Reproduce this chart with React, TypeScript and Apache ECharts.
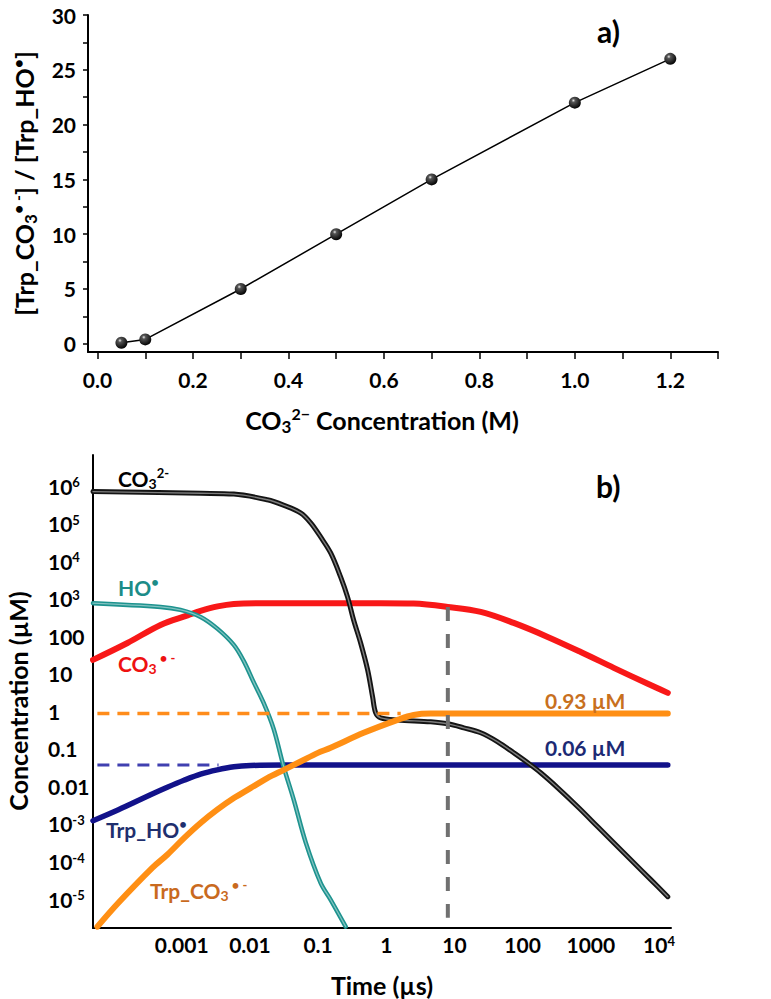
import React, { useEffect, useRef } from 'react';
import * as echarts from 'echarts';

const FONT = 'Lato, "Open Sans", "DejaVu Sans", sans-serif';

// ---------------- Panel a ----------------
const carbonateMolar = [0.05, 0.1, 0.3, 0.5, 0.7, 1.0, 1.2];
const radicalRatio = [0.1, 0.4, 5, 10, 15, 22, 26];
const aXTickValues = [0, 0.1, 0.2, 0.3, 0.4, 0.5, 0.6, 0.7, 0.8, 0.9, 1.0, 1.1, 1.2, 1.3];
const aXLabelValues = [0, 0.2, 0.4, 0.6, 0.8, 1.0, 1.2];
const aYTickValues = [0, 2.5, 5, 7.5, 10, 12.5, 15, 17.5, 20, 22.5, 25, 27.5, 30];
const aYLabelValues = [0, 5, 10, 15, 20, 25, 30];

// ---------------- Panel b : [time (µs), concentration (µM)] ----------------
const carbonateIon = [
  [5e-5, 7.1e5], [1.9e-3, 6.4e5], [5.8e-3, 6.1e5], [0.018, 4.3e5], [0.031, 3.1e5],
  [0.056, 1.9e5], [0.078, 1.04e5], [0.109, 4.4e4], [0.153, 1.65e4], [0.214, 3.8e3],
  [0.271, 1.1e3], [0.332, 270], [0.421, 66], [0.533, 12.7], [0.631, 2.4],
  [0.7, 0.91], [0.83, 0.67], [1.47, 0.59], [4.48, 0.526], [7.96, 0.465],
  [13.7, 0.364], [24.3, 0.268], [43.1, 0.154], [74, 0.0787], [119, 0.0426],
  [184, 0.0231], [327, 9.2e-3], [643, 2.88e-3], [1265, 8.45e-4], [2170, 3.17e-4],
  [4270, 9.3e-5], [7580, 3.3e-5], [13460, 1.16e-5],
];
const carbonateRadical = [
  [5e-5, 23.5], [1.6e-4, 66], [4.9e-4, 200], [1.22e-3, 359], [1.89e-3, 472],
  [3.36e-3, 622], [5.8e-3, 726], [0.0144, 760], [0.83, 760], [2.52, 740],
  [7.96, 604], [24.3, 444], [74, 226], [233, 96], [712, 38],
  [2170, 14.4], [6850, 5.4], [13460, 3.1],
];
const hydroxylRadical = [
  [5e-5, 760], [4.9e-4, 604], [9.6e-4, 502], [1.89e-3, 327], [3.36e-3, 157],
  [5.8e-3, 58.8], [8.1e-3, 22.1], [0.0113, 6.1], [0.0159, 1.68], [0.0223, 0.342],
  [0.031, 0.0355], [0.044, 4.4e-3], [0.066, 3.2e-4], [0.109, 2.7e-5], [0.153, 9.6e-6],
  [0.254, 1.85e-6],
];
const trpHydroxyl = [
  [5e-5, 1.22e-3], [1.18e-4, 2.39e-3], [3.49e-4, 6.0e-3], [6.14e-4, 9.5e-3],
  [1.08e-3, 0.0146], [1.89e-3, 0.0213], [3.32e-3, 0.0277], [5.82e-3, 0.0334],
  [0.0102, 0.0361], [0.031, 0.037], [13460, 0.037],
];
const trpCarbonate = [
  [5.8e-5, 1.85e-6], [1.18e-4, 8.0e-6], [3.73e-4, 6.9e-5], [6.14e-4, 1.52e-4],
  [1.08e-3, 4.2e-4], [1.89e-3, 1.06e-3], [3.32e-3, 2.4e-3], [5.82e-3, 4.9e-3],
  [0.0102, 9.0e-3], [0.018, 0.0167], [0.0315, 0.0277], [0.0555, 0.0461],
  [0.0975, 0.0772], [0.153, 0.107], [0.466, 0.268], [1.47, 0.594],
  [2.52, 0.8], [4.48, 0.87], [13460, 0.87],
];
const trpCarbonateLevel = [[5.8e-5, 0.87], [1.63, 0.87]];
const trpHydroxylLevel = [[5.8e-5, 0.037], [3.47e-3, 0.037]];
const markerTime = [[8, 604], [8, 3.2e-6]];

const bTimeTicks = [0.001, 0.01, 0.1, 1, 10, 100, 1000, 10000];
const bTimeLabels = ['0.001', '0.01', '0.1', '1', '10', '100', '1000', '10{sup|4}'];
const bConcTicks = [1e6, 1e5, 1e4, 1e3, 100, 10, 1, 0.1, 0.01, 1e-3, 1e-4, 1e-5];
const bConcLabels = ['10{sup|6}', '10{sup|5}', '10{sup|4}', '10{sup|3}', '100', '10', '1', '0.1', '0.01', '10{sup|-3}', '10{sup|-4}', '10{sup|-5}'];

const lookup = (ticks: number[], labels: string[]) => (v: number) => {
  const i = ticks.findIndex((t) => Math.abs(Math.log10(t) - Math.log10(v)) < 1e-6);
  return i >= 0 ? labels[i] : '';
};

const ecRich = (color: string, subSize: number, supSize: number, subH: number, supH: number) => ({
  sub: { color, fontSize: subSize, fontWeight: 'bold', fontFamily: FONT, verticalAlign: 'bottom', lineHeight: subH },
  sup: { color, fontSize: supSize, fontWeight: 'bold', fontFamily: FONT, verticalAlign: 'top', lineHeight: supH },
});

const annot = (text: string, x: number, y: number, color: string, size = 21) => ({
  type: 'text',
  x,
  y,
  z: 100,
  style: {
    text,
    fill: color,
    fontSize: size,
    fontWeight: 'bold',
    fontFamily: FONT,
    align: 'left',
    verticalAlign: 'middle',
    lineHeight: 24,
    rich: {
      sub: { fill: color, fontSize: 14, fontWeight: 'bold', fontFamily: FONT, verticalAlign: 'bottom', lineHeight: 12 },
      sup: { fill: color, fontSize: 13, fontWeight: 'bold', fontFamily: FONT, verticalAlign: 'top', lineHeight: 10 },
    },
  },
});

export default function App() {
  const ref = useRef<HTMLDivElement>(null);
  useEffect(() => {
    const chart = echarts.init(ref.current!, null, { renderer: 'svg' });
    const sphere = new echarts.graphic.RadialGradient(0.38, 0.32, 0.7, [
      { offset: 0, color: '#e8e8e8' },
      { offset: 0.22, color: '#555555' },
      { offset: 1, color: '#000000' },
    ]);
    const tickLabel = { color: '#000', fontSize: 21, fontWeight: 'bold', fontFamily: FONT };
    const titleStyle = { color: '#000', fontSize: 25, fontWeight: 'bold', fontFamily: FONT, lineHeight: 30 };
    const axisLine = { show: true, onZero: false, lineStyle: { color: '#000', width: 2 } };
    const bLine = (data: number[][], color: string, width: number, z = 2, extra: any = {}) => ({
      type: 'line',
      xAxisIndex: 1,
      yAxisIndex: 1,
      data,
      showSymbol: false,
      symbol: 'none',
      smooth: 0.35,
      z,
      lineStyle: { color, width, cap: 'round', join: 'round' },
      silent: true,
      ...extra,
    });
    const option: any = {
      animation: false,
      backgroundColor: '#ffffff',
      grid: [
        { left: 88, right: 53, top: 15, bottom: 647, containLabel: false, outerBoundsMode: 'none' },
        { left: 93, right: 100, top: 455, bottom: 71, containLabel: false, outerBoundsMode: 'none' },
      ],
      xAxis: [
        {
          type: 'value',
          gridIndex: 0,
          min: -0.02,
          max: 1.3,
          axisLine,
          axisTick: { show: true, length: 7, customValues: aXTickValues, lineStyle: { color: '#000', width: 1.5 } },
          axisLabel: { ...tickLabel, customValues: aXLabelValues, margin: 17, formatter: (v: number) => v.toFixed(1) },
          splitLine: { show: false },
          name: 'CO{sub|3}{sup|2−} Concentration (M)',
          nameLocation: 'middle',
          nameGap: 53,
          nameMoveOverlap: false,
          nameTextStyle: { ...titleStyle, padding: [0, 42, 0, 0], rich: ecRich('#000', 17, 16, 14, 14) },
        },
        {
          type: 'log',
          logBase: 10,
          gridIndex: 1,
          min: 5e-5,
          max: 1.5e4,
          axisLine,
          axisTick: { show: false },
          axisLabel: {
            ...tickLabel,
            customValues: bTimeTicks,
            margin: 6,
            formatter: lookup(bTimeTicks, bTimeLabels),
            rich: ecRich('#000', 13, 13, 12, 14),
          },
          splitLine: { show: false },
          minorTick: { show: false },
          name: 'Time (µs)',
          nameLocation: 'middle',
          nameGap: 42,
          nameMoveOverlap: false,
          nameTextStyle: { ...titleStyle },
        },
      ],
      yAxis: [
        {
          type: 'value',
          gridIndex: 0,
          min: -0.75,
          max: 30,
          axisLine,
          axisTick: { show: true, length: 5, customValues: aYTickValues, lineStyle: { color: '#000', width: 1.5 } },
          axisLabel: { ...tickLabel, customValues: aYLabelValues, margin: 12 },
          splitLine: { show: false },
          name: '[Trp_CO{sub|3}{sup|• -}] / [Trp_HO{sup|•}]',
          nameLocation: 'middle',
          nameRotate: 90,
          nameGap: 49,
          nameMoveOverlap: false,
          nameTextStyle: { ...titleStyle, rich: ecRich('#000', 17, 16, 14, 14) },
        },
        {
          type: 'log',
          logBase: 10,
          gridIndex: 1,
          min: 1.7e-6,
          max: 6.7e6,
          axisLine,
          axisTick: { show: false },
          axisLabel: {
            ...tickLabel,
            customValues: bConcTicks,
            align: 'left',
            margin: 45,
            formatter: lookup(bConcTicks, bConcLabels),
            rich: ecRich('#000', 13, 13, 12, 14),
          },
          splitLine: { show: false },
          minorTick: { show: false },
          name: 'Concentration (µM)',
          nameLocation: 'middle',
          nameRotate: 90,
          nameGap: 60,
          nameMoveOverlap: false,
          nameTextStyle: { ...titleStyle, padding: [0, 19, 0, 0] },
        },
      ],
      series: [
        {
          type: 'line',
          xAxisIndex: 0,
          yAxisIndex: 0,
          data: carbonateMolar.map((x, i) => [x, radicalRatio[i]]),
          symbol: 'circle',
          symbolSize: 12,
          showSymbol: true,
          lineStyle: { color: '#000', width: 1.5 },
          itemStyle: { color: sphere, borderWidth: 0 },
          z: 3,
        },
        bLine(carbonateRadical, '#f81818', 6, 2),
        bLine(trpHydroxyl, '#12128a', 5.5, 3),
        bLine(carbonateIon, '#141414', 5, 4),
        bLine(carbonateIon, 'rgba(255,255,255,0.45)', 1.4, 5),
        bLine(hydroxylRadical, '#1e938f', 4.5, 6),
        bLine(hydroxylRadical, 'rgba(255,255,255,0.45)', 1.3, 7),
        bLine(trpCarbonate, '#ff8f14', 6, 8),
        bLine(trpCarbonateLevel, '#ff8c1a', 3.5, 9, { smooth: false, lineStyle: { color: '#ff8c1a', width: 3.5, type: [12, 8] } }),
        bLine(trpHydroxylLevel, '#4040b0', 3, 9, { smooth: false, lineStyle: { color: '#4040b0', width: 3, type: [12, 8] } }),
        bLine(markerTime, '#707070', 4, 10, { smooth: false, lineStyle: { color: '#707070', width: 4, type: [14, 13] } }),
      ],
      graphic: [
        { type: 'text', x: 597, y: 31, z: 100, style: { text: 'a)', fill: '#000', fontSize: 30, fontWeight: 'bold', fontFamily: FONT, align: 'left', verticalAlign: 'middle' } },
        { type: 'text', x: 596, y: 486, z: 100, style: { text: 'b)', fill: '#000', fontSize: 30, fontWeight: 'bold', fontFamily: FONT, align: 'left', verticalAlign: 'middle' } },
        annot('CO{sub|3}{sup|2-}', 118, 478, '#000'),
        annot('HO{sup|•}', 118, 587, '#1c8c88'),
        annot('CO{sub|3}{sup| • -}', 118, 663, '#ee1111'),
        annot('Trp_HO{sup|•}', 106, 829, '#1f2f6e'),
        annot('Trp_CO{sub|3}{sup| • -}', 150, 890, '#c96a1e'),
        annot('0.93 µM', 545, 700, '#c8701e'),
        annot('0.06 µM', 545, 747, '#1c2a74'),
      ],
    };
    chart.setOption(option);
    return () => chart.dispose();
  }, []);
  return (
    <div
      ref={ref}
      style={{ position: 'absolute', left: 0, top: 0, width: 771, height: 999, background: '#fff' }}
    />
  );
}
